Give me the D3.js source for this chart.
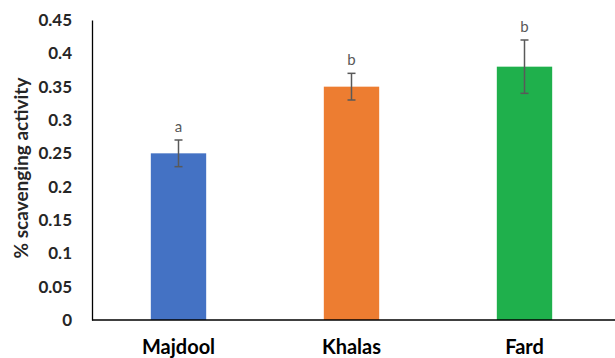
<!DOCTYPE html>
<html>
<head>
<meta charset="utf-8">
<script src="https://cdn.jsdelivr.net/npm/d3@7"></script>
<style>
  html, body { margin: 0; padding: 0; background: #fff; }
  svg { display: block; }
</style>
</head>
<body>
<svg id="chart" width="615" height="358"></svg>
<script>
// Cultivars and their mean scavenging activity with error margins
const cultivars = ["Majdool", "Khalas", "Fard"];
const meanValues = [0.25, 0.35, 0.38];
const errorValues = [0.02, 0.02, 0.04];
const groupLetters = ["a", "b", "b"];
const barColors = ["#4472C4", "#ED7D31", "#1FB04C"];
const yTicks = [0, 0.05, 0.1, 0.15, 0.2, 0.25, 0.3, 0.35, 0.4, 0.45];
const yAxisTitle = "% scavenging activity";

const svg = d3.select("#chart");
const margin = { left: 92, right: 4, top: 20, bottom: 38 };
const W = 615, H = 358;
const fontFamily = "Lato, 'Open Sans', sans-serif";

const x = d3.scaleBand()
  .domain(cultivars)
  .range([margin.left, W - margin.right])
  .paddingInner(0.68)
  .paddingOuter(0.34);

const y = d3.scaleLinear()
  .domain([0, 0.45])
  .range([H - margin.bottom, margin.top]);

// Bars
svg.append("g").selectAll("rect")
  .data(cultivars)
  .join("rect")
  .attr("x", d => x(d))
  .attr("width", x.bandwidth())
  .attr("y", (d, i) => y(meanValues[i]))
  .attr("height", (d, i) => y(0) - y(meanValues[i]))
  .attr("fill", (d, i) => barColors[i]);

// Error bars with significance letters
const errG = svg.append("g").attr("stroke", "#595959").attr("stroke-width", 1.5);
cultivars.forEach((c, i) => {
  const cx = x(c) + x.bandwidth() / 2;
  const lo = y(meanValues[i] - errorValues[i]);
  const hi = y(meanValues[i] + errorValues[i]);
  errG.append("line").attr("x1", cx).attr("x2", cx).attr("y1", lo).attr("y2", hi);
  errG.append("line").attr("x1", cx - 4).attr("x2", cx + 4).attr("y1", lo).attr("y2", lo);
  errG.append("line").attr("x1", cx - 4).attr("x2", cx + 4).attr("y1", hi).attr("y2", hi);
  svg.append("text")
    .attr("x", cx)
    .attr("y", hi - 8)
    .attr("text-anchor", "middle")
    .attr("font-family", fontFamily)
    .attr("font-size", 15)
    .attr("fill", "#595959")
    .text(groupLetters[i]);
});

// Y axis
const yAxis = d3.axisLeft(y)
  .tickValues(yTicks)
  .tickFormat(d => d3.format("")(+d.toFixed(2)))
  .tickSize(0)
  .tickPadding(20);
const gy = svg.append("g")
  .attr("transform", `translate(${margin.left},0)`)
  .call(yAxis);
gy.select(".domain").attr("stroke", "#000").attr("stroke-width", 1.3);
gy.selectAll("text")
  .attr("font-family", fontFamily)
  .attr("font-size", 17)
  .attr("font-weight", 700)
  .attr("fill", "#262626");

// X axis
const xAxis = d3.axisBottom(x).tickSize(0).tickPadding(0);
const gx = svg.append("g")
  .attr("transform", `translate(0,${y(0)})`)
  .call(xAxis);
gx.select(".domain")
  .attr("stroke", "#000").attr("stroke-width", 1.3)
  .attr("d", `M${margin.left},0H${W}`);
gx.selectAll("text")
  .attr("y", 34)
  .attr("dy", null)
  .attr("font-family", fontFamily)
  .attr("font-size", 20)
  .attr("font-weight", 700)
  .attr("fill", "#000");

// Y axis title
svg.append("text")
  .attr("transform", `translate(28,${(y(0) + y(0.45)) / 2 - 2}) rotate(-90)`)
  .attr("text-anchor", "middle")
  .attr("font-family", fontFamily)
  .attr("font-size", 19)
  .attr("font-weight", 700)
  .attr("fill", "#262626")
  .text(yAxisTitle);
</script>
</body>
</html>
